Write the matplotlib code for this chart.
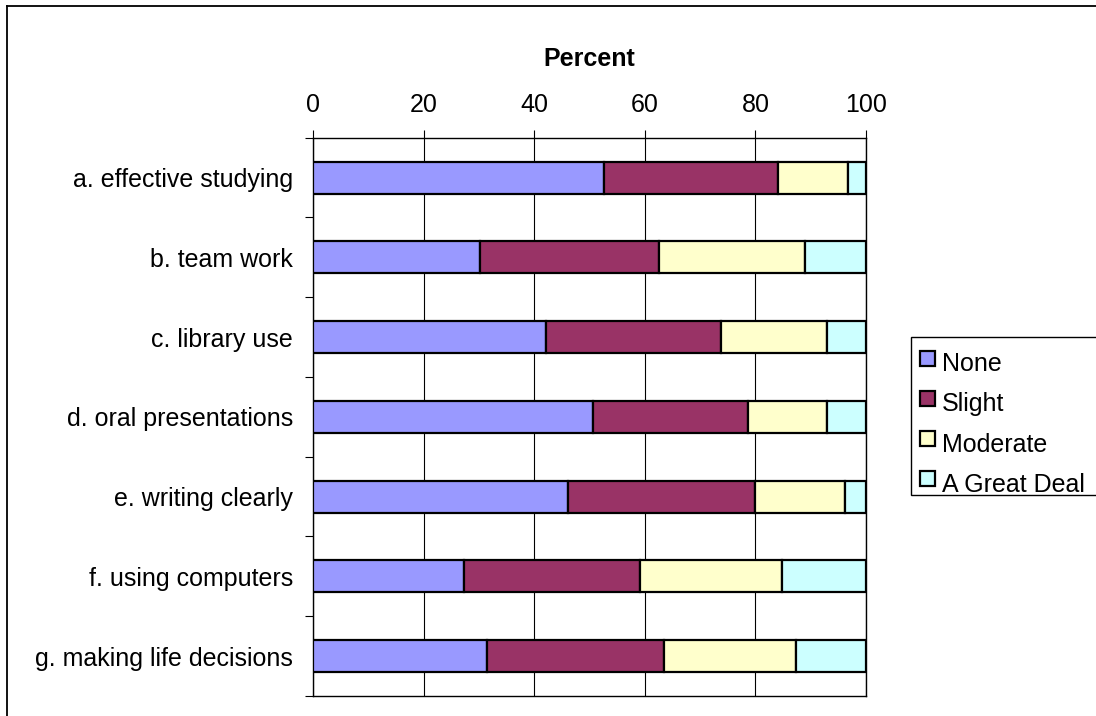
import matplotlib
matplotlib.use("Agg")
import matplotlib.pyplot as plt
from matplotlib.patches import Rectangle
from matplotlib.lines import Line2D
import numpy as np

plt.rcParams['font.family'] = ['Liberation Sans', 'DejaVu Sans']

# Survey items (top to bottom) and percent of responses per level
categories = [
    "a. effective studying",
    "b. team work",
    "c. library use",
    "d. oral presentations",
    "e. writing clearly",
    "f. using computers",
    "g. making life decisions",
]
series_names = ["None", "Slight", "Moderate", "A Great Deal"]
none_pct = [52.7, 30.2, 42.2, 50.6, 46.2, 27.3, 31.4]
slight_pct = [31.3, 32.4, 31.6, 28.0, 33.8, 31.9, 32.1]
moderate_pct = [12.7, 26.3, 19.2, 14.4, 16.2, 25.6, 23.8]
great_pct = [3.3, 11.1, 7.0, 7.0, 3.8, 15.2, 12.7]
x_ticks = [0, 20, 40, 60, 80, 100]

colors = ["#9999FF", "#993366", "#FFFFCC", "#CCFFFF"]

W, H = 1096, 716
fig = plt.figure(figsize=(W / 100, H / 100), dpi=100)
fig.patch.set_facecolor("white")

def fx(px):
    return px / W

def fy(py):
    return 1 - py / H

left, right, top, bottom = 313, 866, 137.7, 696
ax = fig.add_axes([fx(left), fy(bottom), fx(right - left), (bottom - top) / H])

y = np.arange(len(categories))
series = [none_pct, slight_pct, moderate_pct, great_pct]
base = np.zeros(len(categories))
for vals, c, name in zip(series, colors, series_names):
    vals = np.asarray(vals)
    ax.barh(y, vals, left=base, height=0.4, color=c, edgecolor="black",
            linewidth=1.6, label=name, zorder=3)
    base = base + vals

ax.set_xlim(0, 100)
ax.set_ylim(len(categories) - 0.5, -0.5)

# vertical gridlines
ax.set_xticks(x_ticks)
ax.xaxis.grid(True, color="black", linewidth=0.8, zorder=0)
ax.set_axisbelow(True)

ax.xaxis.tick_top()
ax.xaxis.set_label_position("top")
ax.tick_params(axis="x", which="major", top=True, bottom=False,
               labeltop=True, labelbottom=False, direction="out",
               length=5.5, width=0.8, pad=9.5, labelsize=18)
ax.set_xlabel("Percent", fontsize=18, fontweight="bold", labelpad=19.5)

ax.set_yticks(y)
ax.set_yticklabels(categories)
ax.set_yticks(np.arange(-0.5, len(categories)), minor=True)
ax.tick_params(axis="y", which="major", length=0, pad=14.5, labelsize=18)
ax.tick_params(axis="y", which="minor", length=5.5, width=0.8, direction="out")

for s in ax.spines.values():
    s.set_linewidth(1.0)
    s.set_color("black")

# outer frame (top and left edges)
fig.add_artist(Line2D([fx(7), 1.0], [fy(6), fy(6)], transform=fig.transFigure,
                      color="black", linewidth=1.3))
fig.add_artist(Line2D([fx(7), fx(7)], [0.0, fy(6)], transform=fig.transFigure,
                      color="black", linewidth=1.3))

# legend box
lg_left, lg_top, lg_bottom = 911, 337, 495
fig.add_artist(Rectangle((fx(lg_left), fy(lg_bottom)), 1.2 - fx(lg_left),
                         (lg_bottom - lg_top) / H, transform=fig.transFigure,
                         facecolor="white", edgecolor="black", linewidth=1.0))
for i, (name, c) in enumerate(zip(series_names, colors)):
    sq_cy = 358.5 + 40 * i
    fig.add_artist(Rectangle((fx(920), fy(sq_cy + 7.5)), 15 / W, 15 / H,
                             transform=fig.transFigure, facecolor=c,
                             edgecolor="black", linewidth=1.6))
    fig.text(fx(942), fy(371.5 + 40 * i), name, fontsize=18,
             ha="left", va="baseline")

fig.savefig("out.png", dpi=100)
